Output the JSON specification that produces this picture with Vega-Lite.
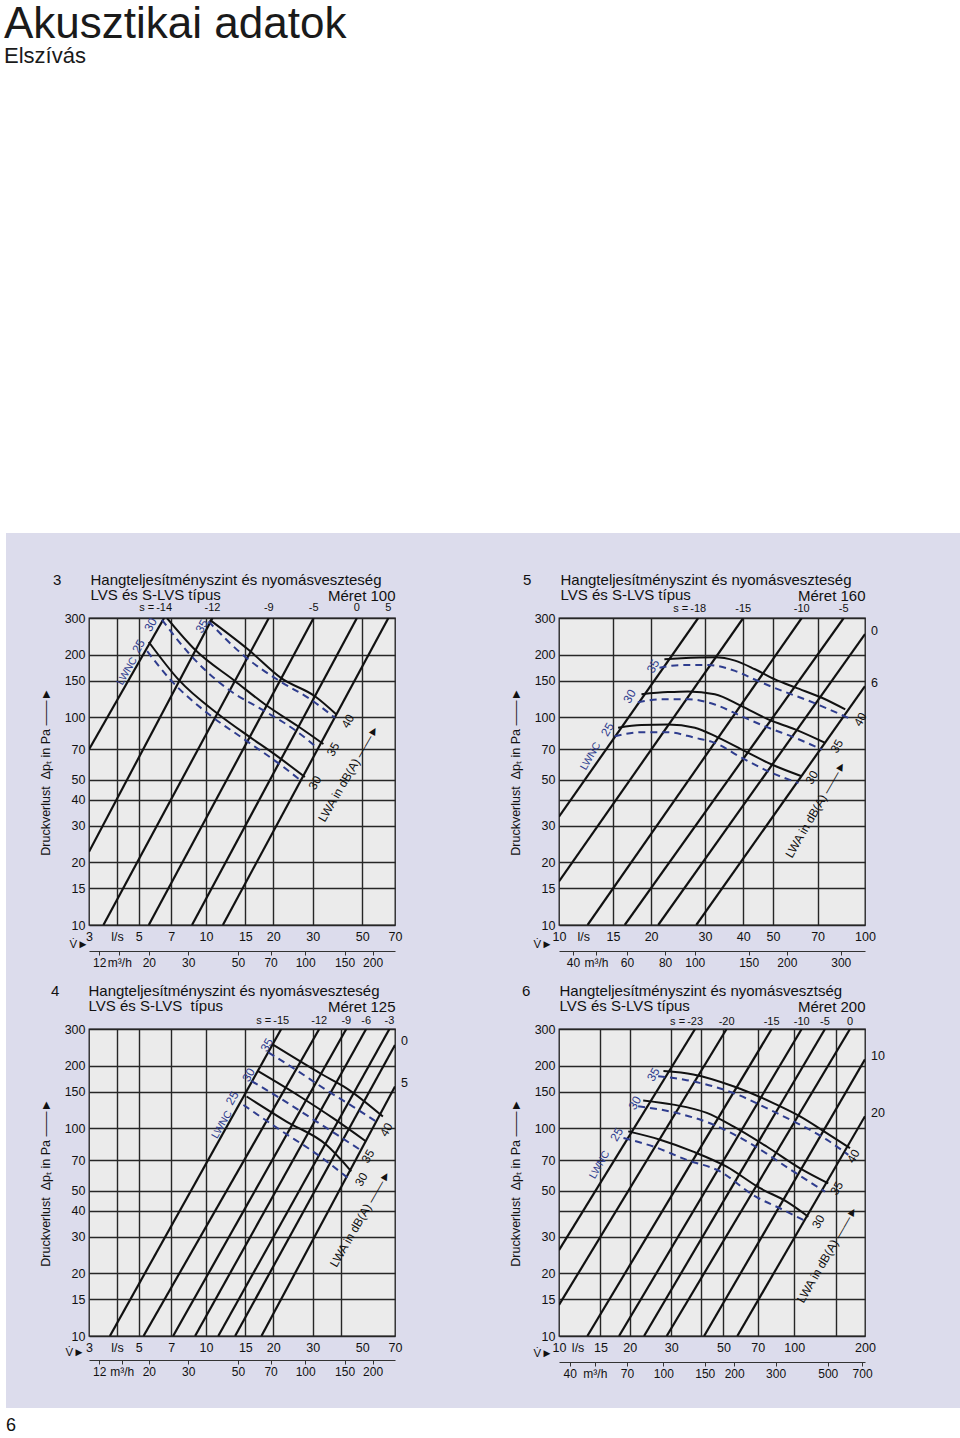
{
  "$schema": "https://vega.github.io/schema/vega-lite/v6.json",
  "background": "#dcdcec",
  "padding": 0,
  "config": {
    "view": {"stroke": null},
    "font": "Liberation Sans",
    "axis": {"labelFont": "Liberation Sans", "titleFont": "Liberation Sans", "labelColor": "#111111", "titleColor": "#111111", "titleFontWeight": "normal"},
    "title": {"font": "Liberation Sans", "subtitleFont": "Liberation Sans", "fontWeight": "normal", "color": "#111111", "subtitleColor": "#111111"},
    "text": {"font": "Liberation Sans"},
    "point": {"size": 0, "strokeWidth": 0, "opacity": 0}
  },
  "datasets": {
    "lines": [
      {"p":3,"id":"-14","V":3,"dp":70},{"p":3,"id":"-14","V":6.5,"dp":300},
      {"p":3,"id":"-12","V":3,"dp":22.5},{"p":3,"id":"-12","V":10.7,"dp":300},
      {"p":3,"id":"-9","V":3.48,"dp":10},{"p":3,"id":"-9","V":19.1,"dp":300},
      {"p":3,"id":"-5","V":5.55,"dp":10},{"p":3,"id":"-5","V":30.3,"dp":300},
      {"p":3,"id":"0","V":8.66,"dp":10},{"p":3,"id":"0","V":47.3,"dp":300},
      {"p":3,"id":"5","V":11.9,"dp":10},{"p":3,"id":"5","V":65.4,"dp":300},
      {"p":5,"id":"-18","V":10,"dp":33.2},{"p":5,"id":"-18","V":28.5,"dp":300},
      {"p":5,"id":"-15","V":10,"dp":16.2},{"p":5,"id":"-15","V":40,"dp":300},
      {"p":5,"id":"-10","V":12.4,"dp":10},{"p":5,"id":"-10","V":62.1,"dp":300},
      {"p":5,"id":"-5","V":16.4,"dp":10},{"p":5,"id":"-5","V":85.2,"dp":300},
      {"p":5,"id":"0","V":21.1,"dp":10},{"p":5,"id":"0","V":100,"dp":251},
      {"p":5,"id":"6","V":28.1,"dp":10},{"p":5,"id":"6","V":100,"dp":141},
      {"p":4,"id":"-15","V":3.72,"dp":10},{"p":4,"id":"-15","V":21.7,"dp":300},
      {"p":4,"id":"-12","V":5.26,"dp":10},{"p":4,"id":"-12","V":32.1,"dp":300},
      {"p":4,"id":"-9","V":7.13,"dp":10},{"p":4,"id":"-9","V":42.4,"dp":300},
      {"p":4,"id":"-6","V":8.94,"dp":10},{"p":4,"id":"-6","V":52,"dp":300},
      {"p":4,"id":"-3","V":11.35,"dp":10},{"p":4,"id":"-3","V":66.1,"dp":300},
      {"p":4,"id":"0","V":13.5,"dp":10},{"p":4,"id":"0","V":70,"dp":251.5},
      {"p":4,"id":"5","V":17.7,"dp":10},{"p":4,"id":"5","V":70,"dp":158.6},
      {"p":6,"id":"-23","V":10,"dp":25.9},{"p":6,"id":"-23","V":37.9,"dp":300},
      {"p":6,"id":"-20","V":10,"dp":14.1},{"p":6,"id":"-20","V":51.6,"dp":300},
      {"p":6,"id":"-15","V":13.2,"dp":10},{"p":6,"id":"-15","V":80.2,"dp":300},
      {"p":6,"id":"-10","V":18,"dp":10},{"p":6,"id":"-10","V":107.6,"dp":300},
      {"p":6,"id":"-5","V":23,"dp":10},{"p":6,"id":"-5","V":135.2,"dp":300},
      {"p":6,"id":"0","V":28.7,"dp":10},{"p":6,"id":"0","V":172.7,"dp":300},
      {"p":6,"id":"10","V":41.4,"dp":10},{"p":6,"id":"10","V":200,"dp":214.2},
      {"p":6,"id":"20","V":57.3,"dp":10},{"p":6,"id":"20","V":200,"dp":114.2}
    ],
    "slabels": [
      {"p":3,"e":"pre","V":6.5,"dp":300,"t":"s ="},
      {"p":3,"e":"top","V":6.5,"dp":300,"t":"-14"},{"p":3,"e":"top","V":10.7,"dp":300,"t":"-12"},{"p":3,"e":"top","V":19.1,"dp":300,"t":"-9"},
      {"p":3,"e":"top","V":30.3,"dp":300,"t":"-5"},{"p":3,"e":"top","V":47.3,"dp":300,"t":"0"},{"p":3,"e":"top","V":65.4,"dp":300,"t":"5"},
      {"p":5,"e":"pre","V":28.5,"dp":300,"t":"s ="},
      {"p":5,"e":"top","V":28.5,"dp":300,"t":"-18"},{"p":5,"e":"top","V":40,"dp":300,"t":"-15"},{"p":5,"e":"top","V":62.1,"dp":300,"t":"-10"},{"p":5,"e":"top","V":85.2,"dp":300,"t":"-5"},
      {"p":5,"e":"right","V":100,"dp":251,"t":"0"},{"p":5,"e":"right","V":100,"dp":141,"t":"6"},
      {"p":4,"e":"pre","V":21.7,"dp":300,"t":"s ="},
      {"p":4,"e":"top","V":21.7,"dp":300,"t":"-15"},{"p":4,"e":"top","V":32.1,"dp":300,"t":"-12"},{"p":4,"e":"top","V":42.4,"dp":300,"t":"-9"},{"p":4,"e":"top","V":52,"dp":300,"t":"-6"},{"p":4,"e":"top","V":66.1,"dp":300,"t":"-3"},
      {"p":4,"e":"right","V":70,"dp":251.5,"t":"0"},{"p":4,"e":"right","V":70,"dp":158.6,"t":"5"},
      {"p":6,"e":"pre","V":37.9,"dp":300,"t":"s ="},
      {"p":6,"e":"top","V":37.9,"dp":300,"t":"-23"},{"p":6,"e":"top","V":51.6,"dp":300,"t":"-20"},{"p":6,"e":"top","V":80.2,"dp":300,"t":"-15"},{"p":6,"e":"top","V":107.6,"dp":300,"t":"-10"},{"p":6,"e":"top","V":135.2,"dp":300,"t":"-5"},{"p":6,"e":"top","V":172.7,"dp":300,"t":"0"},
      {"p":6,"e":"right","V":200,"dp":214.2,"t":"10"},{"p":6,"e":"right","V":200,"dp":114.2,"t":"20"}
    ],
    "curves": [
      {"p":3,"c":"WA40","k":"WA","V":10.4,"dp":294},{"p":3,"c":"WA40","k":"WA","V":15.5,"dp":211},{"p":3,"c":"WA40","k":"WA","V":21.7,"dp":154},{"p":3,"c":"WA40","k":"WA","V":30.7,"dp":126},{"p":3,"c":"WA40","k":"WA","V":38.3,"dp":103},
      {"p":3,"c":"WNC35","k":"WNC","V":10.26,"dp":289},{"p":3,"c":"WNC35","k":"WNC","V":14.9,"dp":196},{"p":3,"c":"WNC35","k":"WNC","V":21.4,"dp":149},{"p":3,"c":"WNC35","k":"WNC","V":29.6,"dp":121},{"p":3,"c":"WNC35","k":"WNC","V":37.7,"dp":99.3},
      {"p":3,"c":"WA35","k":"WA","V":6.69,"dp":300},{"p":3,"c":"WA35","k":"WA","V":8.94,"dp":211},{"p":3,"c":"WA35","k":"WA","V":13.5,"dp":149},{"p":3,"c":"WA35","k":"WA","V":18.4,"dp":115},{"p":3,"c":"WA35","k":"WA","V":25.8,"dp":90.4},{"p":3,"c":"WA35","k":"WA","V":33.5,"dp":74.3},
      {"p":3,"c":"WNC30","k":"WNC","V":6.36,"dp":294},{"p":3,"c":"WNC30","k":"WNC","V":8.38,"dp":203},{"p":3,"c":"WNC30","k":"WNC","V":12.6,"dp":135.8},{"p":3,"c":"WNC30","k":"WNC","V":18.1,"dp":107.7},{"p":3,"c":"WNC30","k":"WNC","V":25.4,"dp":85.6},{"p":3,"c":"WNC30","k":"WNC","V":31.7,"dp":70.6},
      {"p":3,"c":"WA30","k":"WA","V":5.55,"dp":230},{"p":3,"c":"WA30","k":"WA","V":7.54,"dp":151.5},{"p":3,"c":"WA30","k":"WA","V":11.4,"dp":103},{"p":3,"c":"WA30","k":"WA","V":15.5,"dp":81},{"p":3,"c":"WA30","k":"WA","V":20.3,"dp":66.2},{"p":3,"c":"WA30","k":"WA","V":27.7,"dp":51.5},
      {"p":3,"c":"WNC25","k":"WNC","V":5.46,"dp":207.6},{"p":3,"c":"WNC25","k":"WNC","V":6.93,"dp":151.5},{"p":3,"c":"WNC25","k":"WNC","V":10.1,"dp":105},{"p":3,"c":"WNC25","k":"WNC","V":14.9,"dp":78},{"p":3,"c":"WNC25","k":"WNC","V":21.4,"dp":59.3},{"p":3,"c":"WNC25","k":"WNC","V":26.7,"dp":49.3},

      {"p":5,"c":"WA40","k":"WA","V":22.1,"dp":190},{"p":5,"c":"WA40","k":"WA","V":25.1,"dp":192},{"p":5,"c":"WA40","k":"WA","V":32.3,"dp":194},{"p":5,"c":"WA40","k":"WA","V":37.6,"dp":187},{"p":5,"c":"WA40","k":"WA","V":43.7,"dp":170},{"p":5,"c":"WA40","k":"WA","V":50.8,"dp":152},{"p":5,"c":"WA40","k":"WA","V":59.1,"dp":139},{"p":5,"c":"WA40","k":"WA","V":72.3,"dp":124},{"p":5,"c":"WA40","k":"WA","V":86.2,"dp":109},
      {"p":5,"c":"WNC35","k":"WNC","V":21.3,"dp":173},{"p":5,"c":"WNC35","k":"WNC","V":25.1,"dp":178},{"p":5,"c":"WNC35","k":"WNC","V":30.7,"dp":178},{"p":5,"c":"WNC35","k":"WNC","V":37.6,"dp":167},{"p":5,"c":"WNC35","k":"WNC","V":44.8,"dp":149},{"p":5,"c":"WNC35","k":"WNC","V":53.5,"dp":134},{"p":5,"c":"WNC35","k":"WNC","V":65.4,"dp":120},{"p":5,"c":"WNC35","k":"WNC","V":88.4,"dp":99},
      {"p":5,"c":"WA35","k":"WA","V":18.6,"dp":129},{"p":5,"c":"WA35","k":"WA","V":22.7,"dp":132},{"p":5,"c":"WA35","k":"WA","V":26.4,"dp":133},{"p":5,"c":"WA35","k":"WA","V":32.3,"dp":129},{"p":5,"c":"WA35","k":"WA","V":39.5,"dp":113},{"p":5,"c":"WA35","k":"WA","V":48.3,"dp":97.5},{"p":5,"c":"WA35","k":"WA","V":59.1,"dp":87.3},{"p":5,"c":"WA35","k":"WA","V":74.1,"dp":75.2},
      {"p":5,"c":"WNC30","k":"WNC","V":18.1,"dp":118},{"p":5,"c":"WNC30","k":"WNC","V":21.6,"dp":122},{"p":5,"c":"WNC30","k":"WNC","V":26.4,"dp":122},{"p":5,"c":"WNC30","k":"WNC","V":32.3,"dp":115},{"p":5,"c":"WNC30","k":"WNC","V":39.5,"dp":101},{"p":5,"c":"WNC30","k":"WNC","V":48.3,"dp":89},{"p":5,"c":"WNC30","k":"WNC","V":59.1,"dp":79.6},{"p":5,"c":"WNC30","k":"WNC","V":72.3,"dp":69.8},
      {"p":5,"c":"WA30","k":"WA","V":15.6,"dp":89},{"p":5,"c":"WA30","k":"WA","V":18.6,"dp":91.6},{"p":5,"c":"WA30","k":"WA","V":22.7,"dp":92.3},{"p":5,"c":"WA30","k":"WA","V":27.8,"dp":89},{"p":5,"c":"WA30","k":"WA","V":33,"dp":80},{"p":5,"c":"WA30","k":"WA","V":40.5,"dp":68.7},{"p":5,"c":"WA30","k":"WA","V":49.6,"dp":59.2},{"p":5,"c":"WA30","k":"WA","V":62.1,"dp":52},
      {"p":5,"c":"WNC25","k":"WNC","V":15.2,"dp":81},{"p":5,"c":"WNC25","k":"WNC","V":18.6,"dp":84.6},{"p":5,"c":"WNC25","k":"WNC","V":22.7,"dp":84.6},{"p":5,"c":"WNC25","k":"WNC","V":27.8,"dp":79.6},{"p":5,"c":"WNC25","k":"WNC","V":32.3,"dp":75.2},{"p":5,"c":"WNC25","k":"WNC","V":39.5,"dp":63.8},{"p":5,"c":"WNC25","k":"WNC","V":48.3,"dp":54.9},{"p":5,"c":"WNC25","k":"WNC","V":60.6,"dp":48.2},

      {"p":4,"c":"WA40","k":"WA","V":20,"dp":251.5},{"p":4,"c":"WA40","k":"WA","V":33.4,"dp":180.2},{"p":4,"c":"WA40","k":"WA","V":42.4,"dp":155.9},{"p":4,"c":"WA40","k":"WA","V":61.8,"dp":113.7},
      {"p":4,"c":"WNC35","k":"WNC","V":19,"dp":231.6},{"p":4,"c":"WNC35","k":"WNC","V":25.4,"dp":190.1},{"p":4,"c":"WNC35","k":"WNC","V":34.5,"dp":152.6},{"p":4,"c":"WNC35","k":"WNC","V":45.4,"dp":127},{"p":4,"c":"WNC35","k":"WNC","V":57.7,"dp":107.6},
      {"p":4,"c":"WA35","k":"WA","V":17.1,"dp":188},{"p":4,"c":"WA35","k":"WA","V":26.3,"dp":142},{"p":4,"c":"WA35","k":"WA","V":37,"dp":111.7},{"p":4,"c":"WA35","k":"WA","V":52,"dp":86.3},
      {"p":4,"c":"WNC30","k":"WNC","V":16,"dp":168.4},{"p":4,"c":"WNC30","k":"WNC","V":21.4,"dp":139.5},{"p":4,"c":"WNC30","k":"WNC","V":31.2,"dp":107.6},{"p":4,"c":"WNC30","k":"WNC","V":49.5,"dp":78},
      {"p":4,"c":"WA30","k":"WA","V":15.2,"dp":142},{"p":4,"c":"WA30","k":"WA","V":22.9,"dp":107.6},{"p":4,"c":"WA30","k":"WA","V":34.5,"dp":83.2},{"p":4,"c":"WA30","k":"WA","V":44.6,"dp":62},
      {"p":4,"c":"WNC25","k":"WNC","V":14.7,"dp":129.3},{"p":4,"c":"WNC25","k":"WNC","V":21.4,"dp":98.2},{"p":4,"c":"WNC25","k":"WNC","V":32.3,"dp":73.2},{"p":4,"c":"WNC25","k":"WNC","V":43.1,"dp":57.6},

      {"p":6,"c":"WA40","k":"WA","V":27.8,"dp":188.2},{"p":6,"c":"WA40","k":"WA","V":37.2,"dp":181.4},{"p":6,"c":"WA40","k":"WA","V":55.1,"dp":159.2},{"p":6,"c":"WA40","k":"WA","V":81.5,"dp":132.1},{"p":6,"c":"WA40","k":"WA","V":105.9,"dp":114},{"p":6,"c":"WA40","k":"WA","V":137.5,"dp":94.7},{"p":6,"c":"WA40","k":"WA","V":172.7,"dp":80.1},
      {"p":6,"c":"WNC35","k":"WNC","V":26.4,"dp":177.9},{"p":6,"c":"WNC35","k":"WNC","V":34.9,"dp":170.2},{"p":6,"c":"WNC35","k":"WNC","V":55.1,"dp":147.7},{"p":6,"c":"WNC35","k":"WNC","V":81.5,"dp":120.4},{"p":6,"c":"WNC35","k":"WNC","V":105.9,"dp":104},{"p":6,"c":"WNC35","k":"WNC","V":137.5,"dp":88},{"p":6,"c":"WNC35","k":"WNC","V":169.8,"dp":74.4},
      {"p":6,"c":"WA35","k":"WA","V":22.8,"dp":136},{"p":6,"c":"WA35","k":"WA","V":30.6,"dp":129.8},{"p":6,"c":"WA35","k":"WA","V":42.5,"dp":118.4},{"p":6,"c":"WA35","k":"WA","V":55.1,"dp":102},{"p":6,"c":"WA35","k":"WA","V":76.4,"dp":81.6},{"p":6,"c":"WA35","k":"WA","V":105.9,"dp":64.1},{"p":6,"c":"WA35","k":"WA","V":139.6,"dp":54.3},
      {"p":6,"c":"WNC30","k":"WNC","V":21.7,"dp":127.4},{"p":6,"c":"WNC30","k":"WNC","V":30.6,"dp":119.4},{"p":6,"c":"WNC30","k":"WNC","V":45.3,"dp":104},{"p":6,"c":"WNC30","k":"WNC","V":64.9,"dp":84.6},{"p":6,"c":"WNC30","k":"WNC","V":99.1,"dp":61.9},{"p":6,"c":"WNC30","k":"WNC","V":135.2,"dp":49.5},
      {"p":6,"c":"WA30","k":"WA","V":19.7,"dp":96.5},{"p":6,"c":"WA30","k":"WA","V":26.9,"dp":88},{"p":6,"c":"WA30","k":"WA","V":37.2,"dp":77.1},{"p":6,"c":"WA30","k":"WA","V":51.6,"dp":65.3},{"p":6,"c":"WA30","k":"WA","V":71.6,"dp":51.4},{"p":6,"c":"WA30","k":"WA","V":92.9,"dp":44.3},{"p":6,"c":"WA30","k":"WA","V":114.8,"dp":37.5},
      {"p":6,"c":"WNC25","k":"WNC","V":18.8,"dp":89.6},{"p":6,"c":"WNC25","k":"WNC","V":25.2,"dp":81.6},{"p":6,"c":"WNC25","k":"WNC","V":34.9,"dp":70.4},{"p":6,"c":"WNC25","k":"WNC","V":48.4,"dp":61.9},{"p":6,"c":"WNC25","k":"WNC","V":67,"dp":47.6},{"p":6,"c":"WNC25","k":"WNC","V":89.9,"dp":40.4},{"p":6,"c":"WNC25","k":"WNC","V":113,"dp":35.5}
    ],
    "clabels": [
      {"p":3,"k":"WNC","V":5.0,"dp":219.3,"t":"25"},{"p":3,"k":"WNC","V":5.65,"dp":278.6,"t":"30"},{"p":3,"k":"WNC","V":9.58,"dp":273.6,"t":"35"},{"p":3,"k":"LWNC","V":4.44,"dp":166.5,"t":"LWNC"},
      {"p":3,"k":"WA","V":43.1,"dp":95.6,"t":"40"},{"p":3,"k":"WA","V":37.0,"dp":70.0,"t":"35"},{"p":3,"k":"WA","V":30.7,"dp":48.3,"t":"30"},{"p":3,"k":"LWA","V":32.8,"dp":31.7,"t":"LWA in dB(A) ——►"},
      {"p":5,"k":"WNC","V":20.3,"dp":176,"t":"35"},{"p":5,"k":"WNC","V":17.0,"dp":125.9,"t":"30"},{"p":5,"k":"WNC","V":14.4,"dp":87.3,"t":"25"},{"p":5,"k":"LWNC","V":12.7,"dp":64.8,"t":"LWNC"},
      {"p":5,"k":"WA","V":96.5,"dp":97.5,"t":"40"},{"p":5,"k":"WA","V":80.9,"dp":72.4,"t":"35"},{"p":5,"k":"WA","V":67.0,"dp":51.2,"t":"30"},{"p":5,"k":"LWA","V":56.2,"dp":21.3,"t":"LWA in dB(A) ——►"},
      {"p":4,"k":"WNC","V":18.7,"dp":251.5,"t":"35"},{"p":4,"k":"WNC","V":15.5,"dp":180.2,"t":"30"},{"p":4,"k":"WNC","V":13.1,"dp":139.5,"t":"25"},{"p":4,"k":"LWNC","V":11.8,"dp":103.9,"t":"LWNC"},
      {"p":4,"k":"WA","V":64.0,"dp":98.2,"t":"40"},{"p":4,"k":"WA","V":53.0,"dp":73.2,"t":"35"},{"p":4,"k":"WA","V":49.5,"dp":56.6,"t":"30"},{"p":4,"k":"LWA","V":37.0,"dp":21.7,"t":"LWA in dB(A) ——►"},
      {"p":6,"k":"WNC","V":25.2,"dp":181.4,"t":"35"},{"p":6,"k":"WNC","V":21.0,"dp":132.1,"t":"30"},{"p":6,"k":"WNC","V":17.6,"dp":93.3,"t":"25"},{"p":6,"k":"LWNC","V":14.9,"dp":66.6,"t":"LWNC"},
      {"p":6,"k":"WA","V":178.4,"dp":73.2,"t":"40"},{"p":6,"k":"WA","V":151.6,"dp":51.4,"t":"35"},{"p":6,"k":"WA","V":126.6,"dp":35.5,"t":"30"},{"p":6,"k":"LWA","V":105.9,"dp":14.6,"t":"LWA in dB(A) ——►"}
    ]
  },
  "columns": 5,
  "spacing": 0,
  "bounds": "flush",
  "align": "each",
  "concat": [
    {"width": 6, "height": 533, "view": {"fill": "#ffffff", "stroke": null}, "data": {"values": [{}]}, "mark": "point"},
    {"width": 83, "height": 533, "view": {"fill": "#ffffff", "stroke": null}, "data": {"values": [{}]}, "mark": "point"},
    {"width": 306, "height": 533, "view": {"fill": "#ffffff", "stroke": null}, "data": {"values": [{}]}, "mark": "point"},
    {"width": 164, "height": 533, "view": {"fill": "#ffffff", "stroke": null}, "data": {"values": [{}]}, "mark": "point"},
    {"width": 401, "height": 533, "view": {"fill": "#ffffff", "stroke": null}, "data": {"values": [{}]}, "mark": "point",
     "title": {"text": "Akusztikai adatok", "subtitle": "Elszívás", "anchor": "start", "frame": "group", "dx": -555, "offset": -67, "fontSize": 44, "subtitleFontSize": 22, "subtitlePadding": -1, "color": "#1a1a1a", "subtitleColor": "#1a1a1a"}},

    {"width": 6, "height": 85, "view": {"fill": "#ffffff", "stroke": null}, "data": {"values": [{}]}, "mark": "point"},
    {"width": 1, "height": 1, "data": {"values": [{}]}, "mark": "point"},
    {"width": 1, "height": 1, "data": {"values": [{}]}, "mark": "point"},
    {"width": 1, "height": 1, "data": {"values": [{}]}, "mark": "point"},
    {"width": 1, "height": 1, "data": {"values": [{}]}, "mark": "point"},

    {"width": 6, "height": 411, "view": {"fill": "#ffffff", "stroke": null}, "data": {"values": [{}]}, "mark": "point"},
    {"width": 1, "height": 1, "data": {"values": [{}]}, "mark": "point"},
    {
      "width": 306, "height": 307,
      "view": {"fill": "#ebebeb", "stroke": "#1c1c1c", "strokeWidth": 1.3},
      "title": {"text": ["3\u00a0\u00a0\u00a0\u00a0\u00a0\u00a0\u00a0Hangteljesítményszint és nyomásveszteség", "\u200b\u2007\u00a0\u00a0\u00a0\u00a0\u00a0\u00a0\u00a0LVS és S-LVS típus"], "anchor": "start", "frame": "group", "dx": -36, "offset": -15, "fontSize": 15, "lineHeight": 15},
      "resolve": {"axis": {"x": "independent", "y": "independent"}},
      "encoding": {
        "x": {"field": "V", "type": "quantitative", "scale": {"type": "log", "domain": [3, 70], "nice": false}, "axis": null},
        "y": {"field": "dp", "type": "quantitative", "scale": {"type": "log", "domain": [10, 300], "nice": false}, "axis": null}
      },
      "layer": [
        {"data": {"name": "lines"}, "transform": [{"filter": "datum.p == 3"}],
         "mark": {"type": "line", "color": "#111111", "strokeWidth": 2.2, "clip": true},
         "encoding": {
           "x": {"field": "V", "type": "quantitative", "scale": {"type": "log", "domain": [3, 70], "nice": false},
                 "axis": {"orient": "bottom", "values": [3,4,5,7,10,15,20,30,50,70], "labelExpr": "datum.value == 4 ? 'l/s' : format(datum.value, 'd')", "grid": false, "domain": false, "ticks": false, "labelPadding": 5, "labelFontSize": 12.5, "labelOverlap": false, "labelFlush": false, "labelBound": false,
                          "title": "V\u0307\u25ba", "titleAngle": 0, "titleX": -20, "titleY": 19, "titleAlign": "left", "titleBaseline": "middle", "titleFontSize": 11.5}},
           "y": {"field": "dp", "type": "quantitative", "scale": {"type": "log", "domain": [10, 300], "nice": false},
                 "axis": {"values": [10,15,20,30,40,50,70,100,150,200,300], "labelExpr": "format(datum.value, 'd')", "grid": true, "gridColor": "#262626", "gridWidth": 1.4, "domain": false, "ticks": false, "labelPadding": 4, "labelFontSize": 12.5, "labelOverlap": false, "labelFlush": false,
                          "title": "Druckverlust\u00a0 Δpₜ in Pa ——►", "titlePadding": 12, "titleFontSize": 12.5}},
           "detail": {"field": "id"}}},
        {"data": {"name": "curves"}, "transform": [{"filter": "datum.p == 3 && datum.k == 'WA'"}],
         "mark": {"type": "line", "color": "#111111", "strokeWidth": 2, "interpolate": "monotone", "clip": true},
         "encoding": {
           "x": {"field": "V", "type": "quantitative", "scale": {"type": "log", "domain": [3, 70], "nice": false},
                 "axis": {"orient": "bottom", "offset": 26, "values": [3.3333,4.1,5.5556,8.3333,13.8889,19.4444,27.7778,41.6667,55.5556], "labelExpr": "abs(datum.value - 4.1) < 0.01 ? 'm³/h' : format(datum.value * 3.6, '.0f')", "grid": false, "domain": true, "domainColor": "#333333", "domainWidth": 1.2, "ticks": true, "tickColor": "#333333", "tickSize": 4, "labelPadding": 2, "labelFontSize": 12, "labelOverlap": false, "labelFlush": false, "labelBound": false, "title": null}},
           "detail": {"field": "c"}}},
        {"data": {"name": "curves"}, "transform": [{"filter": "datum.p == 3 && datum.k == 'WNC'"}],
         "mark": {"type": "line", "color": "#2f3d8e", "strokeWidth": 2, "strokeDash": [7, 5], "interpolate": "monotone", "clip": true},
         "encoding": {
           "x": {"field": "V", "type": "quantitative", "scale": {"type": "log", "domain": [3, 70], "nice": false},
                 "axis": {"orient": "top", "values": [4,5,7,10,15,20,30,50], "grid": true, "gridColor": "#262626", "gridWidth": 1.4, "labels": false, "ticks": false, "domain": false, "title": "Méret 100", "titleAnchor": "end", "titleFontSize": 15, "titlePadding": 15}},
           "detail": {"field": "c"}}},
        {"data": {"name": "clabels"}, "transform": [{"filter": "datum.p == 3 && datum.k == 'WNC'"}],
         "mark": {"type": "text", "color": "#2f3d8e", "angle": 300, "fontSize": 12}, "encoding": {"text": {"field": "t"}}},
        {"data": {"name": "clabels"}, "transform": [{"filter": "datum.p == 3 && datum.k == 'LWNC'"}],
         "mark": {"type": "text", "color": "#2f3d8e", "angle": 300, "fontSize": 10.5}, "encoding": {"text": {"field": "t"}}},
        {"data": {"name": "clabels"}, "transform": [{"filter": "datum.p == 3 && datum.k == 'WA'"}],
         "mark": {"type": "text", "color": "#111111", "angle": 300, "fontSize": 12}, "encoding": {"text": {"field": "t"}}},
        {"data": {"name": "clabels"}, "transform": [{"filter": "datum.p == 3 && datum.k == 'LWA'"}],
         "mark": {"type": "text", "color": "#111111", "angle": 300, "fontSize": 12, "align": "left"}, "encoding": {"text": {"field": "t"}}},
        {"data": {"name": "slabels"}, "transform": [{"filter": "datum.p == 3 && datum.e == 'top'"}],
         "mark": {"type": "text", "color": "#111111", "fontSize": 11, "baseline": "alphabetic", "dy": -7}, "encoding": {"text": {"field": "t"}}},
        {"data": {"name": "slabels"}, "transform": [{"filter": "datum.p == 3 && datum.e == 'pre'"}],
         "mark": {"type": "text", "color": "#111111", "fontSize": 11, "baseline": "alphabetic", "dy": -7, "align": "right", "dx": -10}, "encoding": {"text": {"field": "t"}}}
      ]
    },
    {"width": 1, "height": 1, "data": {"values": [{}]}, "mark": "point"},
    {
      "width": 306, "height": 307,
      "view": {"fill": "#ebebeb", "stroke": "#1c1c1c", "strokeWidth": 1.3},
      "title": {"text": ["5\u00a0\u00a0\u00a0\u00a0\u00a0\u00a0\u00a0Hangteljesítményszint és nyomásveszteség", "\u200b\u2007\u00a0\u00a0\u00a0\u00a0\u00a0\u00a0\u00a0LVS és S-LVS típus"], "anchor": "start", "frame": "group", "dx": -36, "offset": -15, "fontSize": 15, "lineHeight": 15},
      "resolve": {"axis": {"x": "independent", "y": "independent"}},
      "encoding": {
        "x": {"field": "V", "type": "quantitative", "scale": {"type": "log", "domain": [10, 100], "nice": false}, "axis": null},
        "y": {"field": "dp", "type": "quantitative", "scale": {"type": "log", "domain": [10, 300], "nice": false}, "axis": null}
      },
      "layer": [
        {"data": {"name": "lines"}, "transform": [{"filter": "datum.p == 5"}],
         "mark": {"type": "line", "color": "#111111", "strokeWidth": 2.2, "clip": true},
         "encoding": {
           "x": {"field": "V", "type": "quantitative", "scale": {"type": "log", "domain": [10, 100], "nice": false},
                 "axis": {"orient": "bottom", "values": [10,12,15,20,30,40,50,70,100], "labelExpr": "datum.value == 12 ? 'l/s' : format(datum.value, 'd')", "grid": false, "domain": false, "ticks": false, "labelPadding": 5, "labelFontSize": 12.5, "labelOverlap": false, "labelFlush": false, "labelBound": false,
                          "title": "V\u0307\u25ba", "titleAngle": 0, "titleX": -26, "titleY": 19, "titleAlign": "left", "titleBaseline": "middle", "titleFontSize": 11.5}},
           "y": {"field": "dp", "type": "quantitative", "scale": {"type": "log", "domain": [10, 300], "nice": false},
                 "axis": {"values": [10,15,20,30,40,50,70,100,150,200,300], "labelExpr": "datum.value == 40 ? '' : format(datum.value, 'd')", "grid": true, "gridColor": "#262626", "gridWidth": 1.4, "domain": false, "ticks": false, "labelPadding": 4, "labelFontSize": 12.5, "labelOverlap": false, "labelFlush": false,
                          "title": "Druckverlust\u00a0 Δpₜ in Pa ——►", "titlePadding": 12, "titleFontSize": 12.5}},
           "detail": {"field": "id"}}},
        {"data": {"name": "curves"}, "transform": [{"filter": "datum.p == 5 && datum.k == 'WA'"}],
         "mark": {"type": "line", "color": "#111111", "strokeWidth": 2, "interpolate": "monotone", "clip": true},
         "encoding": {
           "x": {"field": "V", "type": "quantitative", "scale": {"type": "log", "domain": [10, 100], "nice": false},
                 "axis": {"orient": "bottom", "offset": 26, "values": [11.1111,13.2,16.6667,22.2222,27.7778,41.6667,55.5556,83.3333], "labelExpr": "abs(datum.value - 13.2) < 0.01 ? 'm³/h' : format(datum.value * 3.6, '.0f')", "grid": false, "domain": true, "domainColor": "#333333", "domainWidth": 1.2, "ticks": true, "tickColor": "#333333", "tickSize": 4, "labelPadding": 2, "labelFontSize": 12, "labelOverlap": false, "labelFlush": false, "labelBound": false, "title": null}},
           "detail": {"field": "c"}}},
        {"data": {"name": "curves"}, "transform": [{"filter": "datum.p == 5 && datum.k == 'WNC'"}],
         "mark": {"type": "line", "color": "#2f3d8e", "strokeWidth": 2, "strokeDash": [7, 5], "interpolate": "monotone", "clip": true},
         "encoding": {
           "x": {"field": "V", "type": "quantitative", "scale": {"type": "log", "domain": [10, 100], "nice": false},
                 "axis": {"orient": "top", "values": [15,20,30,40,50,70], "grid": true, "gridColor": "#262626", "gridWidth": 1.4, "labels": false, "ticks": false, "domain": false, "title": "Méret 160", "titleAnchor": "end", "titleFontSize": 15, "titlePadding": 15}},
           "detail": {"field": "c"}}},
        {"data": {"name": "clabels"}, "transform": [{"filter": "datum.p == 5 && datum.k == 'WNC'"}],
         "mark": {"type": "text", "color": "#2f3d8e", "angle": 300, "fontSize": 12}, "encoding": {"text": {"field": "t"}}},
        {"data": {"name": "clabels"}, "transform": [{"filter": "datum.p == 5 && datum.k == 'LWNC'"}],
         "mark": {"type": "text", "color": "#2f3d8e", "angle": 300, "fontSize": 10.5}, "encoding": {"text": {"field": "t"}}},
        {"data": {"name": "clabels"}, "transform": [{"filter": "datum.p == 5 && datum.k == 'WA'"}],
         "mark": {"type": "text", "color": "#111111", "angle": 300, "fontSize": 12}, "encoding": {"text": {"field": "t"}}},
        {"data": {"name": "clabels"}, "transform": [{"filter": "datum.p == 5 && datum.k == 'LWA'"}],
         "mark": {"type": "text", "color": "#111111", "angle": 300, "fontSize": 12, "align": "left"}, "encoding": {"text": {"field": "t"}}},
        {"data": {"name": "slabels"}, "transform": [{"filter": "datum.p == 5 && datum.e == 'top'"}],
         "mark": {"type": "text", "color": "#111111", "fontSize": 11, "baseline": "alphabetic", "dy": -6}, "encoding": {"text": {"field": "t"}}},
        {"data": {"name": "slabels"}, "transform": [{"filter": "datum.p == 5 && datum.e == 'pre'"}],
         "mark": {"type": "text", "color": "#111111", "fontSize": 11, "baseline": "alphabetic", "dy": -6, "align": "right", "dx": -10}, "encoding": {"text": {"field": "t"}}},
        {"data": {"name": "slabels"}, "transform": [{"filter": "datum.p == 5 && datum.e == 'right'"}],
         "mark": {"type": "text", "color": "#111111", "fontSize": 12.5, "align": "left", "dx": 6, "dy": -3}, "encoding": {"text": {"field": "t"}}}
      ]
    },

    {"width": 6, "height": 379, "view": {"fill": "#ffffff", "stroke": null}, "data": {"values": [{}]}, "mark": "point"},
    {"width": 1, "height": 1, "data": {"values": [{}]}, "mark": "point"},
    {
      "width": 306, "height": 307,
      "view": {"fill": "#ebebeb", "stroke": "#1c1c1c", "strokeWidth": 1.3},
      "title": {"text": ["4\u00a0\u00a0\u00a0\u00a0\u00a0\u00a0\u00a0Hangteljesítményszint és nyomásveszteség", "\u200b\u2007\u00a0\u00a0\u00a0\u00a0\u00a0\u00a0\u00a0LVS és S-LVS\u00a0 típus"], "anchor": "start", "frame": "group", "dx": -38, "offset": -15, "fontSize": 15, "lineHeight": 15},
      "resolve": {"axis": {"x": "independent", "y": "independent"}},
      "encoding": {
        "x": {"field": "V", "type": "quantitative", "scale": {"type": "log", "domain": [3, 70], "nice": false}, "axis": null},
        "y": {"field": "dp", "type": "quantitative", "scale": {"type": "log", "domain": [10, 300], "nice": false}, "axis": null}
      },
      "layer": [
        {"data": {"name": "lines"}, "transform": [{"filter": "datum.p == 4"}],
         "mark": {"type": "line", "color": "#111111", "strokeWidth": 2.2, "clip": true},
         "encoding": {
           "x": {"field": "V", "type": "quantitative", "scale": {"type": "log", "domain": [3, 70], "nice": false},
                 "axis": {"orient": "bottom", "values": [3,4,5,7,10,15,20,30,50,70], "labelExpr": "datum.value == 4 ? 'l/s' : format(datum.value, 'd')", "grid": false, "domain": false, "ticks": false, "labelPadding": 5, "labelFontSize": 12.5, "labelOverlap": false, "labelFlush": false, "labelBound": false,
                          "title": "V\u0307\u25ba", "titleAngle": 0, "titleX": -24, "titleY": 16, "titleAlign": "left", "titleBaseline": "middle", "titleFontSize": 11.5}},
           "y": {"field": "dp", "type": "quantitative", "scale": {"type": "log", "domain": [10, 300], "nice": false},
                 "axis": {"values": [10,15,20,30,40,50,70,100,150,200,300], "labelExpr": "format(datum.value, 'd')", "grid": true, "gridColor": "#262626", "gridWidth": 1.4, "domain": false, "ticks": false, "labelPadding": 4, "labelFontSize": 12.5, "labelOverlap": false, "labelFlush": false,
                          "title": "Druckverlust\u00a0 Δpₜ in Pa ——►", "titlePadding": 12, "titleFontSize": 12.5}},
           "detail": {"field": "id"}}},
        {"data": {"name": "curves"}, "transform": [{"filter": "datum.p == 4 && datum.k == 'WA'"}],
         "mark": {"type": "line", "color": "#111111", "strokeWidth": 2, "interpolate": "monotone", "clip": true},
         "encoding": {
           "x": {"field": "V", "type": "quantitative", "scale": {"type": "log", "domain": [3, 70], "nice": false},
                 "axis": {"orient": "bottom", "offset": 24, "values": [3.3333,4.2,5.5556,8.3333,13.8889,19.4444,27.7778,41.6667,55.5556], "labelExpr": "abs(datum.value - 4.2) < 0.01 ? 'm³/h' : format(datum.value * 3.6, '.0f')", "grid": false, "domain": true, "domainColor": "#333333", "domainWidth": 1.2, "ticks": true, "tickColor": "#333333", "tickSize": 4, "labelPadding": 2, "labelFontSize": 12, "labelOverlap": false, "labelFlush": false, "labelBound": false, "title": null}},
           "detail": {"field": "c"}}},
        {"data": {"name": "curves"}, "transform": [{"filter": "datum.p == 4 && datum.k == 'WNC'"}],
         "mark": {"type": "line", "color": "#2f3d8e", "strokeWidth": 2, "strokeDash": [7, 5], "interpolate": "monotone", "clip": true},
         "encoding": {
           "x": {"field": "V", "type": "quantitative", "scale": {"type": "log", "domain": [3, 70], "nice": false},
                 "axis": {"orient": "top", "values": [4,5,7,10,15,20,30,40], "grid": true, "gridColor": "#262626", "gridWidth": 1.4, "labels": false, "ticks": false, "domain": false, "title": "Méret 125", "titleAnchor": "end", "titleFontSize": 15, "titlePadding": 15}},
           "detail": {"field": "c"}}},
        {"data": {"name": "clabels"}, "transform": [{"filter": "datum.p == 4 && datum.k == 'WNC'"}],
         "mark": {"type": "text", "color": "#2f3d8e", "angle": 300, "fontSize": 12}, "encoding": {"text": {"field": "t"}}},
        {"data": {"name": "clabels"}, "transform": [{"filter": "datum.p == 4 && datum.k == 'LWNC'"}],
         "mark": {"type": "text", "color": "#2f3d8e", "angle": 300, "fontSize": 10.5}, "encoding": {"text": {"field": "t"}}},
        {"data": {"name": "clabels"}, "transform": [{"filter": "datum.p == 4 && datum.k == 'WA'"}],
         "mark": {"type": "text", "color": "#111111", "angle": 300, "fontSize": 12}, "encoding": {"text": {"field": "t"}}},
        {"data": {"name": "clabels"}, "transform": [{"filter": "datum.p == 4 && datum.k == 'LWA'"}],
         "mark": {"type": "text", "color": "#111111", "angle": 300, "fontSize": 12, "align": "left"}, "encoding": {"text": {"field": "t"}}},
        {"data": {"name": "slabels"}, "transform": [{"filter": "datum.p == 4 && datum.e == 'top'"}],
         "mark": {"type": "text", "color": "#111111", "fontSize": 11, "baseline": "alphabetic", "dy": -5}, "encoding": {"text": {"field": "t"}}},
        {"data": {"name": "slabels"}, "transform": [{"filter": "datum.p == 4 && datum.e == 'pre'"}],
         "mark": {"type": "text", "color": "#111111", "fontSize": 11, "baseline": "alphabetic", "dy": -5, "align": "right", "dx": -10}, "encoding": {"text": {"field": "t"}}},
        {"data": {"name": "slabels"}, "transform": [{"filter": "datum.p == 4 && datum.e == 'right'"}],
         "mark": {"type": "text", "color": "#111111", "fontSize": 12.5, "align": "left", "dx": 6, "dy": -4}, "encoding": {"text": {"field": "t"}}}
      ]
    },
    {"width": 1, "height": 1, "data": {"values": [{}]}, "mark": "point"},
    {
      "width": 306, "height": 307,
      "view": {"fill": "#ebebeb", "stroke": "#1c1c1c", "strokeWidth": 1.3},
      "title": {"text": ["6\u00a0\u00a0\u00a0\u00a0\u00a0\u00a0\u00a0Hangteljesítményszint és nyomásvesztség", "\u200b\u2007\u00a0\u00a0\u00a0\u00a0\u00a0\u00a0\u00a0LVS és S-LVS típus"], "anchor": "start", "frame": "group", "dx": -37, "offset": -15, "fontSize": 15, "lineHeight": 15},
      "resolve": {"axis": {"x": "independent", "y": "independent"}},
      "encoding": {
        "x": {"field": "V", "type": "quantitative", "scale": {"type": "log", "domain": [10, 200], "nice": false}, "axis": null},
        "y": {"field": "dp", "type": "quantitative", "scale": {"type": "log", "domain": [10, 300], "nice": false}, "axis": null}
      },
      "layer": [
        {"data": {"name": "lines"}, "transform": [{"filter": "datum.p == 6"}],
         "mark": {"type": "line", "color": "#111111", "strokeWidth": 2.2, "clip": true},
         "encoding": {
           "x": {"field": "V", "type": "quantitative", "scale": {"type": "log", "domain": [10, 200], "nice": false},
                 "axis": {"orient": "bottom", "values": [10,12,15,20,30,50,70,100,200], "labelExpr": "datum.value == 12 ? 'l/s' : format(datum.value, 'd')", "grid": false, "domain": false, "ticks": false, "labelPadding": 5, "labelFontSize": 12.5, "labelOverlap": false, "labelFlush": false, "labelBound": false,
                          "title": "V\u0307\u25ba", "titleAngle": 0, "titleX": -26, "titleY": 17, "titleAlign": "left", "titleBaseline": "middle", "titleFontSize": 11.5}},
           "y": {"field": "dp", "type": "quantitative", "scale": {"type": "log", "domain": [10, 300], "nice": false},
                 "axis": {"values": [10,15,20,30,40,50,70,100,150,200,300], "labelExpr": "datum.value == 40 ? '' : format(datum.value, 'd')", "grid": true, "gridColor": "#262626", "gridWidth": 1.4, "domain": false, "ticks": false, "labelPadding": 4, "labelFontSize": 12.5, "labelOverlap": false, "labelFlush": false,
                          "title": "Druckverlust\u00a0 Δpₜ in Pa ——►", "titlePadding": 12, "titleFontSize": 12.5}},
           "detail": {"field": "id"}}},
        {"data": {"name": "curves"}, "transform": [{"filter": "datum.p == 6 && datum.k == 'WA'"}],
         "mark": {"type": "line", "color": "#111111", "strokeWidth": 2, "interpolate": "monotone", "clip": true},
         "encoding": {
           "x": {"field": "V", "type": "quantitative", "scale": {"type": "log", "domain": [10, 200], "nice": false},
                 "axis": {"orient": "bottom", "offset": 26, "values": [11.1111,14.2,19.4444,27.7778,41.6667,55.5556,83.3333,138.8889,194.4444], "labelExpr": "abs(datum.value - 14.2) < 0.01 ? 'm³/h' : format(datum.value * 3.6, '.0f')", "grid": false, "domain": true, "domainColor": "#333333", "domainWidth": 1.2, "ticks": true, "tickColor": "#333333", "tickSize": 4, "labelPadding": 2, "labelFontSize": 12, "labelOverlap": false, "labelFlush": false, "labelBound": false, "title": null}},
           "detail": {"field": "c"}}},
        {"data": {"name": "curves"}, "transform": [{"filter": "datum.p == 6 && datum.k == 'WNC'"}],
         "mark": {"type": "line", "color": "#2f3d8e", "strokeWidth": 2, "strokeDash": [7, 5], "interpolate": "monotone", "clip": true},
         "encoding": {
           "x": {"field": "V", "type": "quantitative", "scale": {"type": "log", "domain": [10, 200], "nice": false},
                 "axis": {"orient": "top", "values": [15,20,30,40,50,70,100,150], "grid": true, "gridColor": "#262626", "gridWidth": 1.4, "labels": false, "ticks": false, "domain": false, "title": "Méret 200", "titleAnchor": "end", "titleFontSize": 15, "titlePadding": 15}},
           "detail": {"field": "c"}}},
        {"data": {"name": "clabels"}, "transform": [{"filter": "datum.p == 6 && datum.k == 'WNC'"}],
         "mark": {"type": "text", "color": "#2f3d8e", "angle": 300, "fontSize": 12}, "encoding": {"text": {"field": "t"}}},
        {"data": {"name": "clabels"}, "transform": [{"filter": "datum.p == 6 && datum.k == 'LWNC'"}],
         "mark": {"type": "text", "color": "#2f3d8e", "angle": 300, "fontSize": 10.5}, "encoding": {"text": {"field": "t"}}},
        {"data": {"name": "clabels"}, "transform": [{"filter": "datum.p == 6 && datum.k == 'WA'"}],
         "mark": {"type": "text", "color": "#111111", "angle": 300, "fontSize": 12}, "encoding": {"text": {"field": "t"}}},
        {"data": {"name": "clabels"}, "transform": [{"filter": "datum.p == 6 && datum.k == 'LWA'"}],
         "mark": {"type": "text", "color": "#111111", "angle": 300, "fontSize": 12, "align": "left"}, "encoding": {"text": {"field": "t"}}},
        {"data": {"name": "slabels"}, "transform": [{"filter": "datum.p == 6 && datum.e == 'top'"}],
         "mark": {"type": "text", "color": "#111111", "fontSize": 11, "baseline": "alphabetic", "dy": -4}, "encoding": {"text": {"field": "t"}}},
        {"data": {"name": "slabels"}, "transform": [{"filter": "datum.p == 6 && datum.e == 'pre'"}],
         "mark": {"type": "text", "color": "#111111", "fontSize": 11, "baseline": "alphabetic", "dy": -4, "align": "right", "dx": -10}, "encoding": {"text": {"field": "t"}}},
        {"data": {"name": "slabels"}, "transform": [{"filter": "datum.p == 6 && datum.e == 'right'"}],
         "mark": {"type": "text", "color": "#111111", "fontSize": 12.5, "align": "left", "dx": 6, "dy": -3}, "encoding": {"text": {"field": "t"}}}
      ]
    },

    {"width": 6, "height": 30, "view": {"fill": "#ffffff", "stroke": null}, "data": {"values": [{}]}, "mark": "point"},
    {"width": 83, "height": 30, "view": {"fill": "#ffffff", "stroke": null}, "data": {"values": [{}]}, "mark": "point"},
    {"width": 306, "height": 30, "view": {"fill": "#ffffff", "stroke": null}, "data": {"values": [{}]}, "mark": "point"},
    {"width": 164, "height": 30, "view": {"fill": "#ffffff", "stroke": null}, "data": {"values": [{}]}, "mark": "point"},
    {"width": 401, "height": 30, "view": {"fill": "#ffffff", "stroke": null}, "data": {"values": [{}]}, "mark": "point",
     "title": {"text": "6", "anchor": "start", "frame": "group", "dx": -553, "offset": -27, "fontSize": 18, "color": "#111111"}}
  ]
}
